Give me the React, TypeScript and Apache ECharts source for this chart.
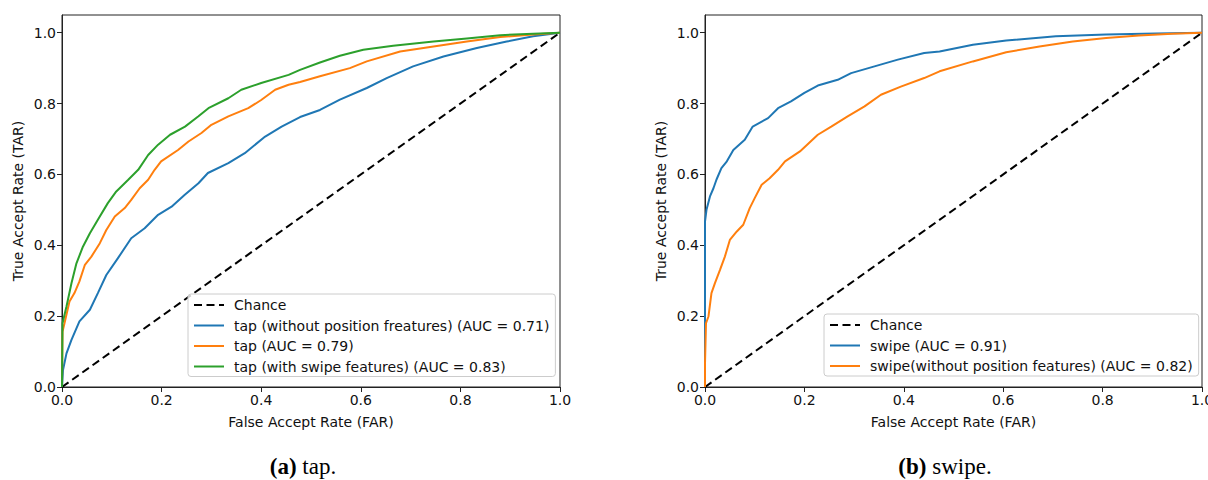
import React, { useEffect, useRef } from "react";
import * as echarts from "echarts";

// ---- Data ----
const chanceFar = [0, 1];
const chanceTar = [0, 1];

const tapNoPosFar = [0, 0.002, 0.009, 0.019, 0.035, 0.056, 0.072, 0.089, 0.112, 0.139, 0.166, 0.193, 0.22, 0.246, 0.274, 0.293, 0.334, 0.367, 0.408, 0.441, 0.478, 0.518, 0.558, 0.612, 0.652, 0.705, 0.766, 0.833, 0.893, 0.946, 1.0];
const tapNoPosTar = [0, 0.048, 0.095, 0.133, 0.185, 0.218, 0.265, 0.316, 0.363, 0.42, 0.448, 0.486, 0.509, 0.542, 0.575, 0.604, 0.632, 0.66, 0.707, 0.735, 0.762, 0.782, 0.811, 0.844, 0.872, 0.905, 0.933, 0.957, 0.975, 0.99, 1.0];

const tapFar = [0, 0.001, 0.005, 0.015, 0.025, 0.035, 0.046, 0.059, 0.076, 0.089, 0.106, 0.126, 0.139, 0.156, 0.173, 0.186, 0.199, 0.233, 0.254, 0.28, 0.3, 0.334, 0.374, 0.4, 0.428, 0.455, 0.478, 0.518, 0.578, 0.612, 0.679, 0.746, 0.813, 0.88, 0.946, 1.0];
const tapTar = [0, 0.156, 0.18, 0.241, 0.265, 0.298, 0.345, 0.368, 0.406, 0.443, 0.481, 0.505, 0.528, 0.561, 0.585, 0.613, 0.637, 0.669, 0.693, 0.717, 0.74, 0.764, 0.787, 0.81, 0.839, 0.853, 0.861, 0.877, 0.9, 0.919, 0.947, 0.961, 0.975, 0.988, 0.995, 1.0];

const tapSwipeFar = [0, 0.001, 0.009, 0.019, 0.029, 0.042, 0.056, 0.072, 0.092, 0.109, 0.133, 0.153, 0.173, 0.193, 0.217, 0.247, 0.274, 0.294, 0.334, 0.36, 0.4, 0.455, 0.478, 0.518, 0.558, 0.605, 0.665, 0.746, 0.813, 0.88, 0.946, 1.0];
const tapSwipeTar = [0, 0.18, 0.227, 0.293, 0.349, 0.396, 0.434, 0.472, 0.519, 0.552, 0.585, 0.613, 0.655, 0.684, 0.712, 0.735, 0.764, 0.787, 0.815, 0.839, 0.858, 0.881, 0.895, 0.916, 0.935, 0.952, 0.963, 0.975, 0.984, 0.993, 0.997, 1.0];

const swipeFar = [0, 0, 0.003, 0.01, 0.017, 0.023, 0.033, 0.044, 0.057, 0.08, 0.096, 0.127, 0.147, 0.173, 0.2, 0.227, 0.267, 0.294, 0.341, 0.388, 0.441, 0.472, 0.539, 0.606, 0.706, 0.807, 0.907, 1.0];
const swipeTar = [0, 0.467, 0.5, 0.538, 0.561, 0.585, 0.618, 0.637, 0.669, 0.698, 0.735, 0.759, 0.787, 0.806, 0.83, 0.851, 0.867, 0.886, 0.905, 0.924, 0.943, 0.947, 0.966, 0.978, 0.99, 0.995, 0.998, 1.0];

const swipeNoPosFar = [0, 0, 0.002, 0.007, 0.013, 0.02, 0.03, 0.04, 0.05, 0.064, 0.077, 0.09, 0.1, 0.114, 0.13, 0.147, 0.161, 0.191, 0.227, 0.254, 0.287, 0.321, 0.354, 0.394, 0.441, 0.472, 0.539, 0.606, 0.673, 0.74, 0.807, 0.873, 0.94, 1.0];
const swipeNoPosTar = [0, 0.067, 0.18, 0.199, 0.265, 0.293, 0.33, 0.368, 0.415, 0.439, 0.458, 0.505, 0.533, 0.571, 0.589, 0.613, 0.637, 0.665, 0.712, 0.735, 0.764, 0.792, 0.825, 0.848, 0.872, 0.891, 0.919, 0.945, 0.961, 0.975, 0.985, 0.992, 0.997, 1.0];

const tickValues = [0, 0.2, 0.4, 0.6, 0.8, 1.0];

const tapNames = [
  "tap (without position freatures) (AUC = 0.71)",
  "tap (AUC = 0.79)",
  "tap (with swipe features) (AUC = 0.83)",
];
const swipeNames = [
  "swipe (AUC = 0.91)",
  "swipe(without position features) (AUC = 0.82)",
];
const captions = [
  { label: "(a)", text: " tap." },
  { label: "(b)", text: " swipe." },
];

const BLUE = "#1f77b4";
const ORANGE = "#ff7f0e";
const GREEN = "#2ca02c";
const FONT = "DejaVu Sans";
const FS = 14;

const zip = (xs: number[], ys: number[]) => xs.map((x, i) => [x, ys[i]]);

function lineSeries(name: string, xs: number[], ys: number[], color: string, axis: number, dashed = false) {
  return {
    name,
    type: "line",
    xAxisIndex: axis,
    yAxisIndex: axis,
    data: zip(xs, ys),
    symbol: "none",
    color,
    lineStyle: dashed
      ? { color, width: 2, type: [8, 4.5] }
      : { color, width: 2 },
    silent: true,
  };
}

function makeAxes(idx: number) {
  const common = {
    gridIndex: idx,
    type: "value",
    min: 0,
    axisLine: { show: true, lineStyle: { color: "#222", width: 1 } },
    axisTick: { show: true, inside: false, length: 5, lineStyle: { color: "#222" }, customValues: tickValues },
    axisLabel: {
      color: "#111",
      fontFamily: FONT,
      fontSize: FS,
      margin: 6,
      customValues: tickValues,
      formatter: (v: number) => v.toFixed(1),
    },
    splitLine: { show: false },
    nameLocation: "middle",
    nameTextStyle: { color: "#111", fontFamily: FONT, fontSize: FS },
  };
  return {
    x: { ...common, max: 1, name: "False Accept Rate (FAR)", nameGap: 28 },
    y: { ...common, max: 1.05, name: "True Accept Rate (TAR)", nameGap: 37 },
  };
}

function makeLegend(names: string[], left: number, top: number) {
  return {
    data: ["Chance", ...names],
    left,
    top,
    orient: "vertical",
    itemWidth: 30,
    itemHeight: 14,
    itemGap: 6.5,
    padding: [4, 6, 3, 5],
    backgroundColor: "rgba(255,255,255,0.8)",
    borderColor: "#cccccc",
    borderWidth: 1,
    borderRadius: 3,
    itemStyle: { opacity: 0 },
    textStyle: { color: "#111", fontFamily: FONT, fontSize: FS, lineHeight: 14, padding: [0, 0, 0, 5] },
    selectedMode: false,
  };
}

export default function App() {
  const ref = useRef<HTMLDivElement>(null);
  useEffect(() => {
    if (!ref.current) return;
    const chart = echarts.init(ref.current, undefined, { renderer: "svg" });
    const a0 = makeAxes(0);
    const a1 = makeAxes(1);
    chart.setOption({
      animation: false,
      backgroundColor: "#ffffff",
      grid: [
        { left: 62, top: 15, width: 498, height: 372, show: true, borderColor: "#222", borderWidth: 1, backgroundColor: "transparent", outerBoundsMode: "none", containLabel: false },
        { left: 705, top: 15, width: 497, height: 372, show: true, borderColor: "#222", borderWidth: 1, backgroundColor: "transparent", outerBoundsMode: "none", containLabel: false },
      ],
      xAxis: [a0.x, a1.x],
      yAxis: [a0.y, a1.y],
      legend: [makeLegend(tapNames, 188, 294), makeLegend(swipeNames, 824, 314)],
      series: [
        lineSeries("Chance", chanceFar, chanceTar, "#000000", 0, true),
        lineSeries(tapNames[0], tapNoPosFar, tapNoPosTar, BLUE, 0),
        lineSeries(tapNames[1], tapFar, tapTar, ORANGE, 0),
        lineSeries(tapNames[2], tapSwipeFar, tapSwipeTar, GREEN, 0),
        lineSeries("Chance", chanceFar, chanceTar, "#000000", 1, true),
        lineSeries(swipeNames[0], swipeFar, swipeTar, BLUE, 1),
        lineSeries(swipeNames[1], swipeNoPosFar, swipeNoPosTar, ORANGE, 1),
      ],
      graphic: captions.map((c, i) => ({
        type: "text",
        x: i === 0 ? 303 : 945,
        y: 466,
        style: {
          text: `{b|${c.label}}{n|${c.text}}`,
          align: "center",
          verticalAlign: "middle",
          rich: {
            b: { fontFamily: "Liberation Serif", fontSize: 23, fontWeight: "bold", fill: "#000" },
            n: { fontFamily: "Liberation Serif", fontSize: 23, fill: "#000" },
          },
        },
      })),
    });
    return () => chart.dispose();
  }, []);
  return (
    <div
      ref={ref}
      style={{ position: "fixed", left: 0, top: 0, width: 1208, height: 480, background: "#fff" }}
    />
  );
}
